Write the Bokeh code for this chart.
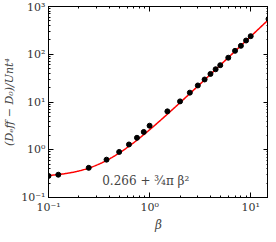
import numpy as np
from bokeh.plotting import figure
from bokeh.models import LogAxis, LogTicker, CustomJSTickFormatter, Range1d, Label
from bokeh.embed import file_html
from bokeh.resources import INLINE

# data
beta = [0.1, 0.125, 0.25, 0.375, 0.5, 0.625, 0.75, 0.875, 1.0, 1.5, 2.0, 2.5,
        3.0, 3.5, 4.0, 4.5, 5.0, 6.0, 7.0, 8.0, 9.0, 10.0, 15.0]
diff = [0.283, 0.30, 0.418, 0.62, 0.90, 1.29, 1.78, 2.36, 3.19, 6.37, 10.3, 15.7,
        22.2, 29.6, 38.7, 48.5, 59.0, 84.6, 118.0, 150.0, 194.0, 239.0, 548.0]
fit_c0 = 0.266
fit_c2 = 0.75 * np.pi
x_range = (0.1, 15.0)
y_range = (0.1, 1000.0)

SERIF = "DejaVu Serif"

p = figure(width=268, height=234, x_axis_type="log", y_axis_type="log",
           x_range=Range1d(*x_range), y_range=Range1d(*y_range),
           output_backend="svg", toolbar_location=None,
           min_border_left=0, min_border_right=0, min_border_top=6, min_border_bottom=0)
p.background_fill_color = "white"
p.border_fill_color = "white"
p.outline_line_color = "black"
p.outline_line_width = 1
p.xgrid.visible = False
p.ygrid.visible = False

fmt_code = """
const sup = {'-':'\u207b','0':'\u2070','1':'\u00b9','2':'\u00b2','3':'\u00b3','4':'\u2074','5':'\u2075','6':'\u2076','7':'\u2077','8':'\u2078','9':'\u2079'};
const e = Math.round(Math.log10(tick));
return '10' + String(e).split('').map(c => sup[c]).join('');
"""

def style_axis(ax, labels=True):
    ax.ticker = LogTicker(num_minor_ticks=10, mantissas=[1])
    ax.major_tick_in = 5
    ax.major_tick_out = 0
    ax.minor_tick_in = 2
    ax.minor_tick_out = 0
    ax.axis_line_color = "black"
    ax.major_tick_line_color = "black"
    ax.minor_tick_line_color = "black"
    if labels:
        ax.formatter = CustomJSTickFormatter(code=fmt_code)
        ax.major_label_text_font = SERIF
        ax.major_label_text_font_size = "11px"
        ax.major_label_text_color = "#333333"
        ax.major_label_standoff = 3
    else:
        ax.major_label_text_font_size = "0px"
        ax.major_label_standoff = 0
        ax.major_label_text_color = None

for ax in p.xaxis + p.yaxis:
    style_axis(ax)

p.xaxis.axis_label = "β"
p.xaxis.axis_label_text_font = SERIF
p.xaxis.axis_label_text_font_style = "italic"
p.xaxis.axis_label_text_font_size = "12px"
p.xaxis.axis_label_text_color = "#444444"
p.xaxis.axis_label_standoff = 1

p.yaxis.axis_label = "(Dₑff − D₀)/Unt⁴"
p.yaxis.axis_label_text_font = SERIF
p.yaxis.axis_label_text_font_style = "italic"
p.yaxis.axis_label_text_font_size = "11px"
p.yaxis.axis_label_text_color = "#444444"
p.yaxis.axis_label_standoff = 2

top = LogAxis()
right = LogAxis()
style_axis(top, labels=False)
style_axis(right, labels=False)
p.add_layout(top, "above")
p.add_layout(right, "right")

xs = np.logspace(np.log10(x_range[0]), np.log10(x_range[1]), 300)
ys = fit_c0 + fit_c2 * xs ** 2
p.line(xs, ys, line_color="#ff0000", line_width=1.5)
p.scatter(beta, diff, size=5, fill_color="black", line_color="black")

p.add_layout(Label(x=0.34, y=0.16, text="0.266 + ¾π β²", text_font=SERIF,
                   text_font_size="12px", text_color="#444444",
                   text_baseline="bottom"))

open("out.html", "w").write(file_html(p, INLINE))
